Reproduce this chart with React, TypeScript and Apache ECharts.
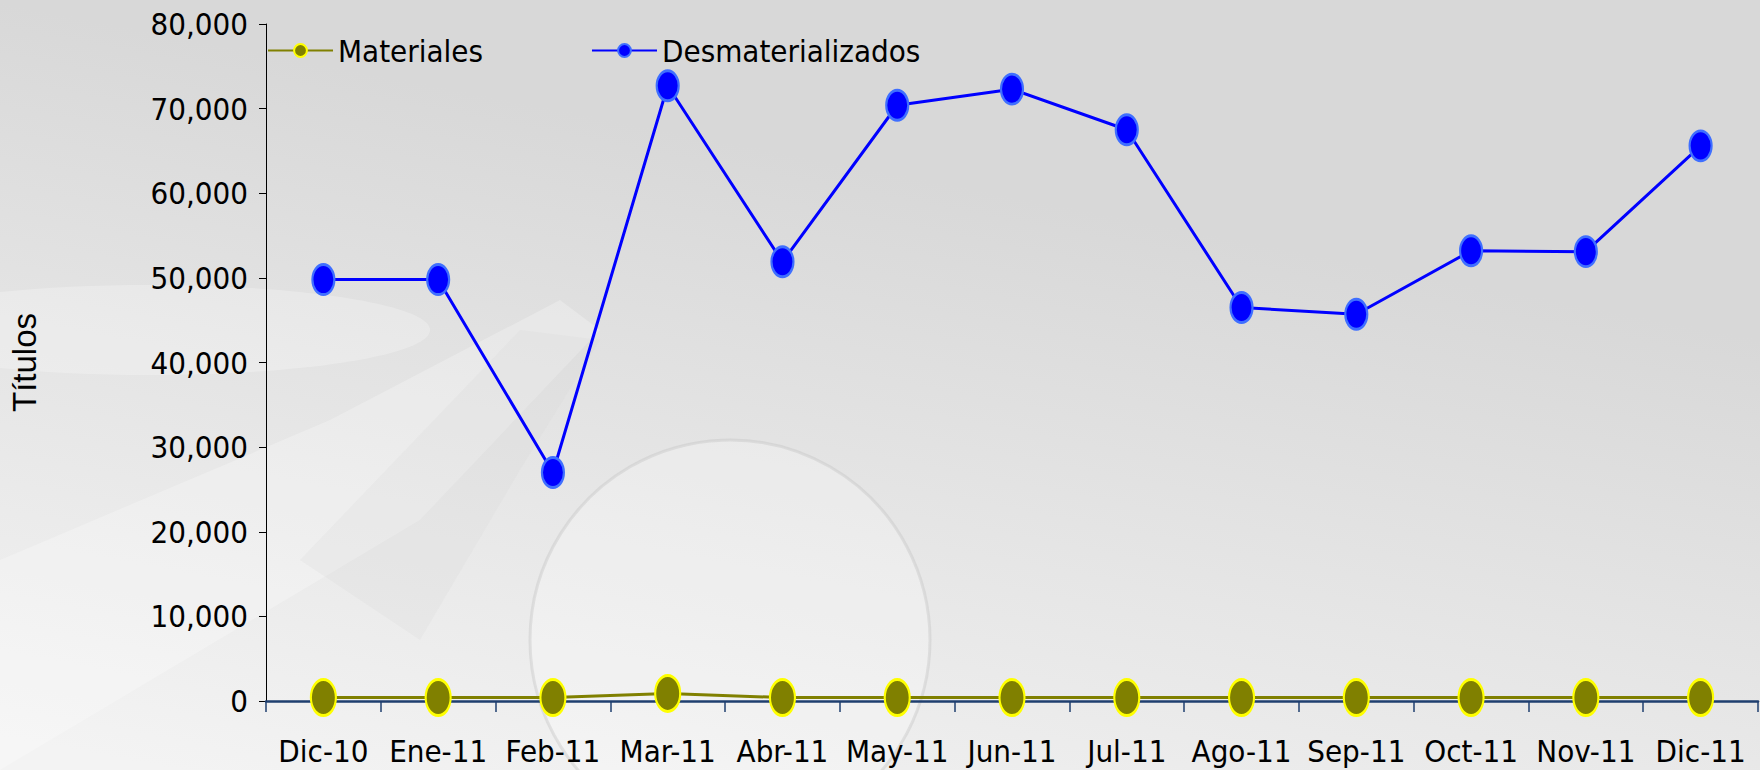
import React, { useEffect, useRef } from "react";
import * as echarts from "echarts";

const categories = ["Dic-10", "Ene-11", "Feb-11", "Mar-11", "Abr-11", "May-11", "Jun-11", "Jul-11", "Ago-11", "Sep-11", "Oct-11", "Nov-11", "Dic-11"];
const materiales = [400, 400, 400, 900, 400, 400, 400, 400, 400, 400, 400, 400, 400];
const desmaterializados = [49800, 49800, 27000, 72700, 51900, 70400, 72300, 67500, 46500, 45700, 53200, 53100, 65600];
const yMin = 0;
const yMax = 80000;
const yInterval = 10000;

const FONT = "'Liberation Sans Narrow', 'Arial Narrow', 'DejaVu Sans Condensed', 'Liberation Sans', Arial, sans-serif";
const ELLIPSE = "path://M10,0 A10,10 0 1,1 10,20 A10,10 0 1,1 10,0 Z";

export default function App() {
  const ref = useRef<HTMLDivElement>(null);
  useEffect(() => {
    if (!ref.current) return;
    const chart = echarts.init(ref.current, null, { renderer: "svg" });
    chart.setOption({
      animation: false,
      backgroundColor: "transparent",
      graphic: [
        {
          type: "rect",
          z: -10,
          silent: true,
          shape: { x: 0, y: 0, width: 1760, height: 770 },
          style: {
            fill: new echarts.graphic.LinearGradient(0.1, 1, 0.45, 0.2, [
              { offset: 0, color: "#f3f3f3" },
              { offset: 0.5, color: "#e6e6e6" },
              { offset: 1, color: "#d8d8d8" },
            ]),
          },
        },
        {
          type: "polygon",
          z: -9,
          silent: true,
          shape: { points: [[0, 560], [330, 420], [560, 300], [600, 330], [420, 520], [0, 770]] },
          style: { fill: "rgba(255,255,255,0.25)" },
        },
        {
          type: "polygon",
          z: -9,
          silent: true,
          shape: { points: [[300, 560], [520, 330], [600, 340], [520, 470], [420, 640]] },
          style: { fill: "rgba(210,210,210,0.18)" },
        },
        {
          type: "circle",
          z: -9,
          silent: true,
          shape: { cx: 730, cy: 640, r: 200 },
          style: { fill: "rgba(255,255,255,0.25)", stroke: "rgba(190,190,190,0.35)", lineWidth: 3 },
        },
        {
          type: "ellipse",
          z: -9,
          silent: true,
          shape: { cx: 150, cy: 330, rx: 280, ry: 45 },
          style: { fill: "rgba(255,255,255,0.25)" },
        },
      ],
      grid: { left: 265, right: 2, top: 24, bottom: 69, containLabel: false },
      legend: {
        left: 267,
        top: 35,
        padding: 0,
        itemWidth: 65,
        itemHeight: 16,
        itemGap: 108,
        textStyle: { fontFamily: FONT, fontSize: 31, color: "#000" },
        data: ["Materiales", "Desmaterializados"],
      },
      xAxis: {
        type: "category",
        data: categories,
        boundaryGap: true,
        axisLine: { show: true, onZero: false, lineStyle: { color: "#1F3F6F", width: 2.5 } },
        axisTick: { show: true, alignWithLabel: false, length: 11, inside: false, lineStyle: { color: "#1F3F6F", width: 1.5 } },
        axisLabel: { fontFamily: FONT, fontSize: 31, color: "#000", margin: 34, interval: 0 },
        splitLine: { show: false },
        z: 3,
      },
      yAxis: {
        type: "value",
        min: yMin,
        max: yMax,
        interval: yInterval,
        name: "Títulos",
        nameLocation: "middle",
        nameRotate: 90,
        nameGap: 225,
        nameTextStyle: { fontFamily: "'Liberation Sans', Arial, sans-serif", fontSize: 33, color: "#000" },
        axisLine: { show: true, lineStyle: { color: "#000", width: 1 } },
        axisTick: { show: true, length: 7, lineStyle: { color: "#000", width: 1 } },
        axisLabel: {
          fontFamily: FONT,
          fontSize: 31,
          color: "#000",
          margin: 18,
          formatter: (v: number) => v.toLocaleString("en-US"),
        },
        splitLine: { show: false },
      },
      series: [
        {
          name: "Materiales",
          type: "line",
          data: materiales,
          symbol: ELLIPSE,
          symbolSize: [25, 36],
          z: 5,
          lineStyle: { color: "#808000", width: 3 },
          itemStyle: { color: "#808000", borderColor: "#FFFF00", borderWidth: 2.5 },
        },
        {
          name: "Desmaterializados",
          type: "line",
          data: desmaterializados,
          symbol: ELLIPSE,
          symbolSize: [22, 30],
          z: 4,
          lineStyle: { color: "#0000FF", width: 3 },
          itemStyle: { color: "#0000FF", borderColor: "#3F6FFF", borderWidth: 2.5 },
        },
      ],
    });
    return () => chart.dispose();
  }, []);
  return <div ref={ref} style={{ width: 1760, height: 770, position: "absolute", left: 0, top: 0 }} />;
}
